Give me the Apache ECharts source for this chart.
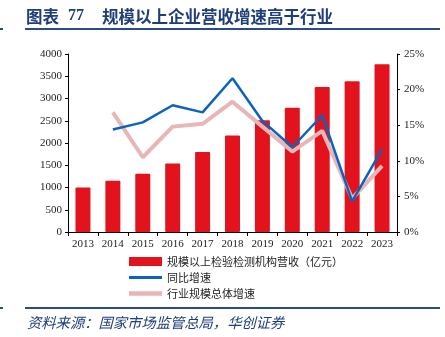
<!DOCTYPE html>
<html><head><meta charset="utf-8">
<script src="https://cdn.jsdelivr.net/npm/echarts@6/dist/echarts.min.js"></script>
<style>html,body{margin:0;padding:0;background:#fff}#c{width:445px;height:337px}</style>
</head><body><div id="c"></div>
<script>
var years = ['2013','2014','2015','2016','2017','2018','2019','2020','2021','2022','2023'];
var revenue = [1000, 1150, 1310, 1540, 1800, 2170, 2510, 2790, 3260, 3390, 3770];
var yoyGrowth = [null, 14.4, 15.4, 17.8, 16.8, 21.6, 15.6, 11.9, 16.4, 4.3, 11.6];
var industryGrowth = [null, 16.8, 10.5, 14.8, 15.2, 18.3, 14.8, 11.3, 14.2, 4.7, 9.3];
var leftTicks = [0, 500, 1000, 1500, 2000, 2500, 3000, 3500, 4000];
var rightTicks = [0, 5, 10, 15, 20, 25];
var names = ['规模以上检验检测机构营收（亿元）', '同比增速', '行业规模总体增速'];

var chart = echarts.init(document.getElementById('c'), null, {renderer: 'canvas'});
var axisFont = {fontFamily: 'Liberation Serif', fontSize: 11, color: '#222'};
var navy = '#1F3D78';
var lineNavy = '#2A4A8A';
chart.setOption({
  animation: false,
  graphic: [
    {type: 'text', left: 26, top: 8, style: {text: '图表', fill: navy, font: 'bold 16.5px "Noto Sans CJK SC"'}},
    {type: 'text', left: 68, top: 8, style: {text: '77', fill: navy, font: 'bold 16px "Liberation Serif"'}},
    {type: 'text', left: 102, top: 8, style: {text: '规模以上企业营收增速高于行业', fill: navy, font: 'bold 16.5px "Noto Sans CJK SC"'}},
    {type: 'rect', shape: {x: 25, y: 28, width: 415, height: 2}, style: {fill: lineNavy}},
    {type: 'rect', shape: {x: 0, y: 28, width: 3, height: 2}, style: {fill: lineNavy}},
    {type: 'rect', shape: {x: 25, y: 307, width: 415, height: 2}, style: {fill: lineNavy}},
    {type: 'rect', shape: {x: 0, y: 307, width: 3, height: 2}, style: {fill: lineNavy}},
    {type: 'text', left: 27, top: 315, style: {text: '资料来源：国家市场监管总局，华创证券', fill: navy,
      font: 'italic 14.3px "Noto Sans CJK SC"'}}
  ],
  legend: {
    orient: 'vertical', left: 124, top: 251,
    itemWidth: 33, itemHeight: 9, itemGap: 5,
    textStyle: {fontFamily: 'Noto Sans CJK SC', fontSize: 11, color: '#222'},
    data: [
      {name: names[0], icon: 'rect'},
      {name: names[1], icon: 'path://M0,0 L33,0 L33,3 L0,3 Z'},
      {name: names[2], icon: 'path://M0,0 L33,0 L33,4.5 L0,4.5 Z'}
    ]
  },
  grid: {left: 68, right: 48, top: 54, bottom: 105},
  xAxis: {
    type: 'category', data: years, boundaryGap: true,
    axisLine: {lineStyle: {color: '#000', width: 1}},
    axisTick: {show: true, length: 4, lineStyle: {color: '#000'}},
    axisLabel: Object.assign({margin: 7}, axisFont)
  },
  yAxis: [
    {type: 'value', min: leftTicks[0], max: leftTicks[leftTicks.length - 1], interval: 500,
      axisLine: {show: true, lineStyle: {color: '#000'}},
      axisTick: {show: true, length: 3, lineStyle: {color: '#000'}},
      splitLine: {show: false},
      axisLabel: Object.assign({margin: 6, formatter: function (v) { return String(v); }}, axisFont)},
    {type: 'value', min: rightTicks[0], max: rightTicks[rightTicks.length - 1], interval: 5,
      axisLine: {show: true, lineStyle: {color: '#000'}},
      axisTick: {show: true, length: 3, lineStyle: {color: '#000'}},
      splitLine: {show: false},
      axisLabel: Object.assign({margin: 7, formatter: '{value}%'}, axisFont)}
  ],
  series: [
    {name: names[0], type: 'bar', data: revenue, barWidth: 15, yAxisIndex: 0,
      itemStyle: {color: '#E3131E', borderRadius: 1}},
    {name: names[2], type: 'line', data: industryGrowth, yAxisIndex: 1, symbol: 'none',
      lineStyle: {color: '#E8B6B6', width: 4}, itemStyle: {color: '#E8B6B6'}},
    {name: names[1], type: 'line', data: yoyGrowth, yAxisIndex: 1, symbol: 'none',
      lineStyle: {color: '#0C62BC', width: 2.5}, itemStyle: {color: '#0C62BC'}}
  ]
});
</script></body></html>
